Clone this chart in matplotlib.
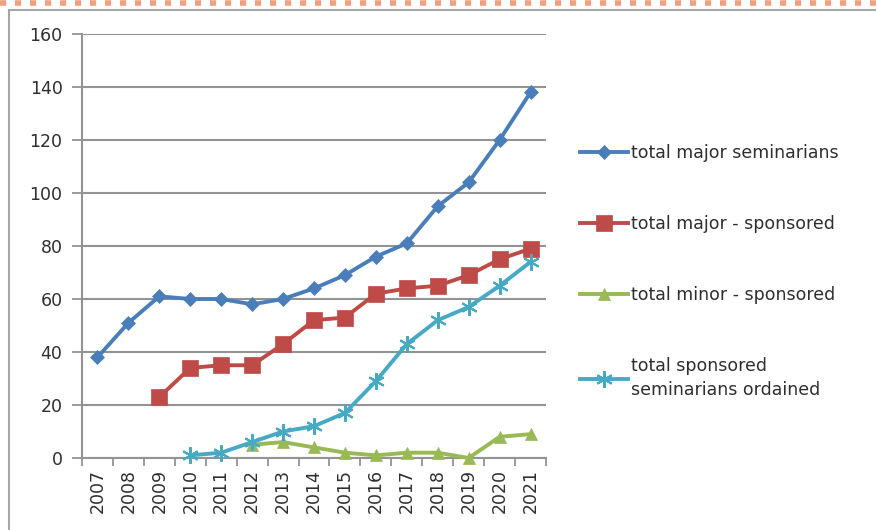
import matplotlib.pyplot as plt
from matplotlib.lines import Line2D
import numpy as np

plt.rcParams['font.family'] = ['DejaVu Sans']

# data
years = ['2007', '2008', '2009', '2010', '2011', '2012', '2013', '2014',
         '2015', '2016', '2017', '2018', '2019', '2020', '2021']
major_total = [38, 51, 61, 60, 60, 58, 60, 64, 69, 76, 81, 95, 104, 120, 138]
major_sponsored = [None, None, 23, 34, 35, 35, 43, 52, 53, 62, 64, 65, 69, 75, 79]
minor_sponsored = [None, None, None, None, None, 5, 6, 4, 2, 1, 2, 2, 0, 8, 9]
ordained = [None, None, None, 1, 2, 6, 10, 12, 17, 29, 43, 52, 57, 65, 74]

labels = ['total major seminarians', 'total major - sponsored',
          'total minor - sponsored', 'total sponsored\nseminarians ordained']
colors = ['#4A7EBB', '#BE4B48', '#98B954', '#46AAC5']
markers = ['D', 's', '^', (6, 2, 0)]
msizes = [7, 11, 9, 12]

def as_arr(v):
    return np.array([np.nan if x is None else x for x in v], dtype=float)

fig = plt.figure(figsize=(8.76, 5.30), dpi=100)
ax = fig.add_axes([82 / 876, 1 - 458 / 530, (546 - 82) / 876, (458 - 34) / 530])

x = np.arange(len(years))
series = [major_total, major_sponsored, minor_sponsored, ordained]
for s, lab, c, m, ms in zip(series, labels, colors, markers, msizes):
    ax.plot(x, as_arr(s), color=c, lw=2.8, marker=m, markersize=ms,
            markeredgewidth=1.5 if m == (6, 2, 0) else 0.5,
            markeredgecolor=c, label=lab, zorder=3, clip_on=False)

ax.set_xlim(-0.5, len(years) - 0.5)
ax.set_ylim(0, 160)
ax.set_yticks(range(0, 161, 20))
ax.yaxis.grid(True, color='#939393', lw=1.5)
ax.set_axisbelow(True)

ax.set_xticks(x)
ax.set_xticklabels(years, rotation=90)
ax.set_xticks(np.arange(-0.5, len(years)), minor=True)
ax.tick_params(axis='x', which='major', length=0, pad=8)
ax.tick_params(axis='x', which='minor', length=6, width=1.3, color='#939393')
ax.tick_params(axis='y', length=7, width=1.3, color='#939393', pad=7)
ax.tick_params(labelsize=12.5, labelcolor='#2E2E2E')

for sp in ['top', 'right']:
    ax.spines[sp].set_visible(False)
for sp in ['left', 'bottom']:
    ax.spines[sp].set_color('#939393')
    ax.spines[sp].set_linewidth(1.5)

leg = ax.legend(loc='upper left', bbox_to_anchor=(1.058, 0.757), frameon=False,
                fontsize=12.5, labelspacing=3.05, handlelength=2.8,
                handletextpad=0.15, borderaxespad=0)
for t in leg.get_texts():
    t.set_color('#2E2E2E')
    t.set_linespacing(1.45)

# outer chart frame and the dotted border above it
fig.add_artist(Line2D([9 / 876, 9 / 876], [0, 1 - 10 / 530],
                      color='#A6A6A6', lw=1.5))
fig.add_artist(Line2D([9 / 876, 1], [1 - 10 / 530, 1 - 10 / 530],
                      color='#A6A6A6', lw=1.5))
fig.add_artist(Line2D([0, 1], [1 - 3 / 530, 1 - 3 / 530], color='#F4A07E',
                      lw=4, linestyle=(0, (1.1, 1.6))))

fig.savefig('out.png', dpi=100)
